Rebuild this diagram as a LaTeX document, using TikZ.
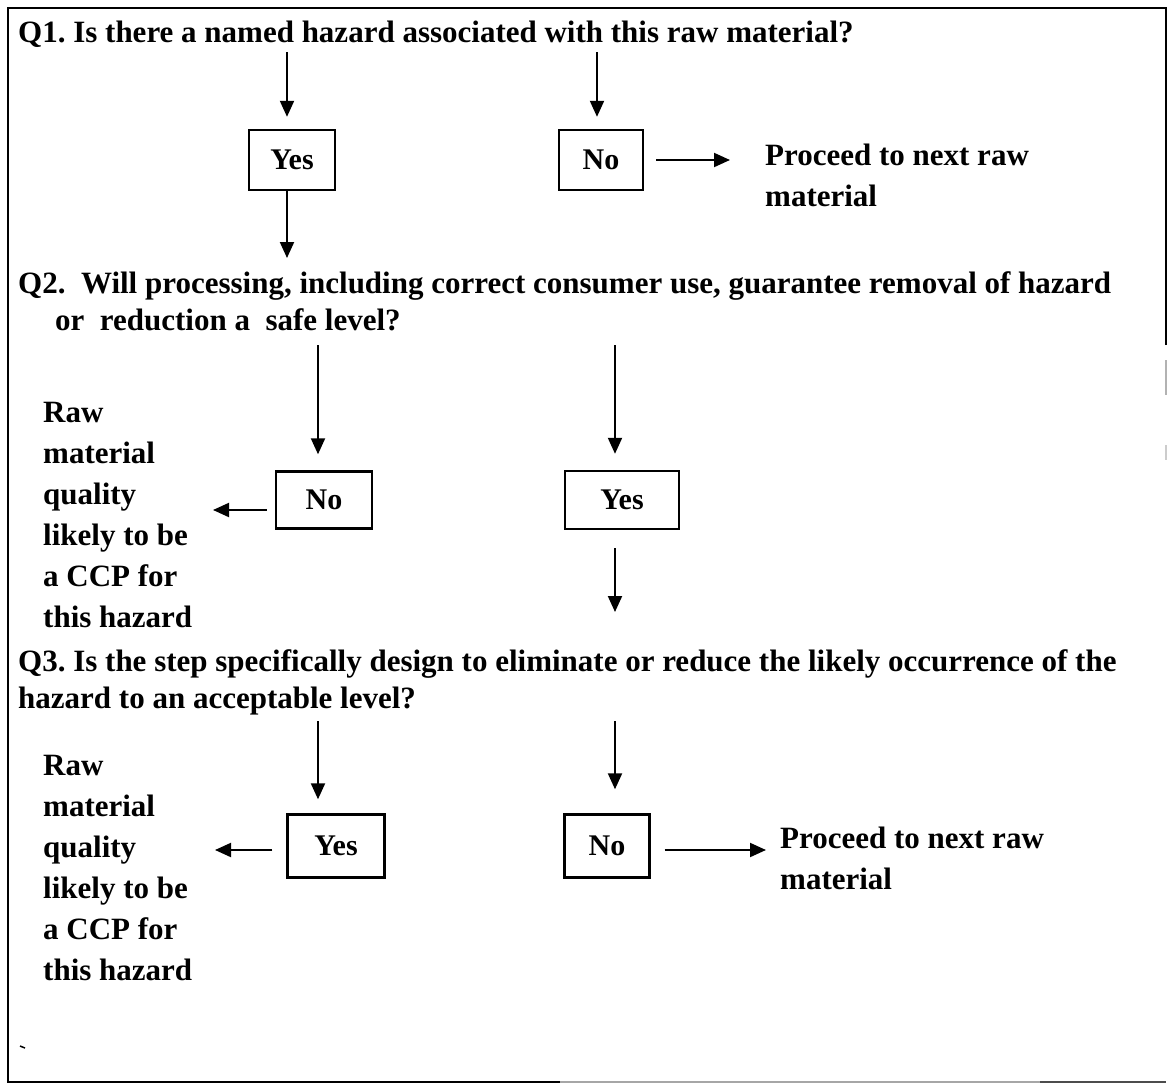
\documentclass[tikz,border=0pt]{standalone}
\usepackage{fontspec}
\setmainfont{Liberation Serif}
\usetikzlibrary{arrows.meta}
\frenchspacing

\tikzset{
  txt/.style={font=\fontsize{31}{41}\selectfont\bfseries, inner sep=0pt, align=left},
  answer/.style={draw, line width=2.4pt, minimum width=#1, minimum height=60pt,
                 font=\fontsize{30}{30}\selectfont\bfseries, inner sep=0pt},
  arr/.style={line width=2pt, -{Triangle[length=16pt,width=14pt]}},
  border/.style={line width=2.6pt},
}

\begin{document}
\begin{tikzpicture}[x=1pt, y=-1pt]
\useasboundingbox (0,0) rectangle (1171,1084);

% frame (the scan keeps only part of the right and bottom edges)
\draw[border] (1166,345) -- (1166,8) -- (8,8) -- (8,1082) -- (560,1082);
\draw[border, black!35] (560,1082) -- (1040,1082);
\draw[border, black!70] (1040,1082) -- (1166,1082);
\draw[border, black!30] (1166,360) -- (1166,395);
\draw[border, black!20] (1166,445) -- (1166,460);
\draw[line width=1.5pt] (20,1046) -- (25,1048);

% ---------- Q1 ----------
\node[txt, anchor=base west] (q1) at (18,42)
  {Q1. Is there a named hazard associated with this raw material?};
\node[answer=86pt] (yes1) at (292,160) {Yes};
\node[answer=84pt] (no1) at (601,160) {No};
% multi-line nodes: the base anchor sits on the last line
\node[txt, anchor=base west] (next1) at (765,206) {Proceed to next raw\\material};
\coordinate (yes1in) at (287,52);
\coordinate (no1in) at (597,52);
\coordinate (q2in) at (287,258);

\draw[arr, shorten >=12pt] (yes1in) -- (yes1in |- yes1.north);
\draw[arr, shorten >=12pt] (no1in) -- (no1in |- no1.north);
\draw[arr, shorten <=12pt, shorten >=35pt] (no1.east) -- (next1.west |- no1.east);
\draw[arr] (yes1in |- yes1.south) -- (q2in);

% ---------- Q2 ----------
\node[txt, anchor=base west] (q2a) at (18,293)
  {Q2.\ \ Will processing, including correct consumer use, guarantee removal of hazard};
\node[txt, anchor=base west] (q2b) at (55,330) {or\ \ reduction a\ \ safe level?};
\node[answer=96pt, minimum height=57pt] (no2) at (324,500) {No};
\node[answer=114pt, minimum height=58pt] (yes2) at (622,500) {Yes};
\node[txt, anchor=base west] (ccp2) at (43,627)
  {Raw\\material\\quality\\likely to be\\a CCP for\\this hazard};
\coordinate (no2in) at (318,345);
\coordinate (yes2in) at (615,345);
\coordinate (ccp2end) at (213,510);
\coordinate (q3in) at (615,612);

\draw[arr, shorten >=16pt] (no2in) -- (no2in |- no2.north);
\draw[arr, shorten >=16pt] (yes2in) -- (yes2in |- yes2.north);
\draw[arr, shorten <=8pt] (no2.west |- ccp2end) -- (ccp2end);
\draw[arr, shorten <=18pt] (yes2in |- yes2.south) -- (q3in);

% ---------- Q3 ----------
\node[txt, anchor=base west] (q3a) at (18,671)
  {Q3. Is the step specifically design to eliminate or reduce the likely occurrence of the};
\node[txt, anchor=base west] (q3b) at (18,708) {hazard to an acceptable level?};
\node[answer=97pt, minimum height=63pt] (yes3) at (336,846) {Yes};
\node[answer=85pt, minimum height=63pt] (no3) at (607,846) {No};
\node[txt, anchor=base west] (ccp3) at (43,980)
  {Raw\\material\\quality\\likely to be\\a CCP for\\this hazard};
\node[txt, anchor=base west] (next3) at (780,889) {Proceed to next raw\\material};
\coordinate (yes3in) at (318,721);
\coordinate (no3in) at (615,721);
\coordinate (ccp3end) at (215,850);

\draw[arr, shorten >=14pt] (yes3in) -- (yes3in |- yes3.north);
\draw[arr, shorten >=24pt] (no3in) -- (no3in |- no3.north);
\draw[arr, shorten <=14pt] (yes3.west |- ccp3end) -- (ccp3end);
\draw[arr, shorten <=14pt, shorten >=14pt] (no3.east |- ccp3end) -- (next3.west |- ccp3end);
\end{tikzpicture}
\end{document}
